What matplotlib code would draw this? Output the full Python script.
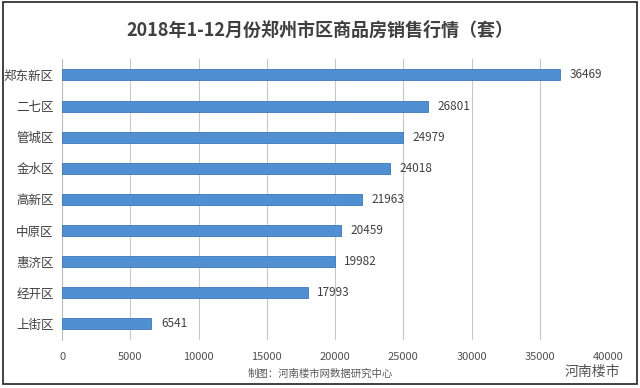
import matplotlib.pyplot as plt
from matplotlib.patches import Rectangle

plt.rcParams['font.family'] = ['Noto Sans CJK SC', 'DejaVu Sans']

districts = ['郑东新区', '二七区', '管城区', '金水区', '高新区', '中原区', '惠济区', '经开区', '上街区']
sales = [36469, 26801, 24979, 24018, 21963, 20459, 19982, 17993, 6541]
x_ticks = [0, 5000, 10000, 15000, 20000, 25000, 30000, 35000, 40000]

title = '2018年1-12月份郑州市区商品房销售行情（套）'
source = '制图：河南楼市网数据研究中心'

fig = plt.figure(figsize=(6.4, 3.88), dpi=100)
ax = fig.add_axes([0.097, 0.125, 0.853, 0.722])

pos = list(range(len(districts)))
ax.barh(pos, sales, height=0.35, color='#4F8FD2', edgecolor='#3C78B8', linewidth=0.6, zorder=3)
for p, v in zip(pos, sales):
    ax.text(v + 700, p, str(v), va='center', ha='left', fontsize=8.5, color='#404040', zorder=4)

ax.set_xlim(0, 40000)
ax.set_ylim(len(districts) - 0.5, -0.5)
ax.set_yticks(pos)
ax.set_yticklabels(districts, fontsize=9, color='#404040')
ax.set_xticks(x_ticks)
ax.set_xticklabels([str(t) for t in x_ticks], fontsize=8, color='#505050')
ax.tick_params(length=0, pad=6)
ax.tick_params(axis='x', pad=9)
ax.grid(axis='x', color='#c8c8c8', linewidth=0.8, zorder=0)
for s in ['top', 'right', 'bottom']:
    ax.spines[s].set_visible(False)
ax.spines['left'].set_color('#bfbfbf')

fig.text(0.5, 0.922, title, ha='center', va='center', fontsize=13, fontweight='bold', color='#404040')
fig.text(0.5, 0.037, source, ha='center', va='center', fontsize=7.5, color='#595959')
fig.text(0.925, 0.04, '河南楼市', ha='center', va='center', fontsize=10, color='#555555')

fig.patches.append(Rectangle((0.004, 0.01), 0.991, 0.985, transform=fig.transFigure,
                             fill=False, edgecolor='#222222', linewidth=1.2))

fig.savefig('out.png', dpi=100)
